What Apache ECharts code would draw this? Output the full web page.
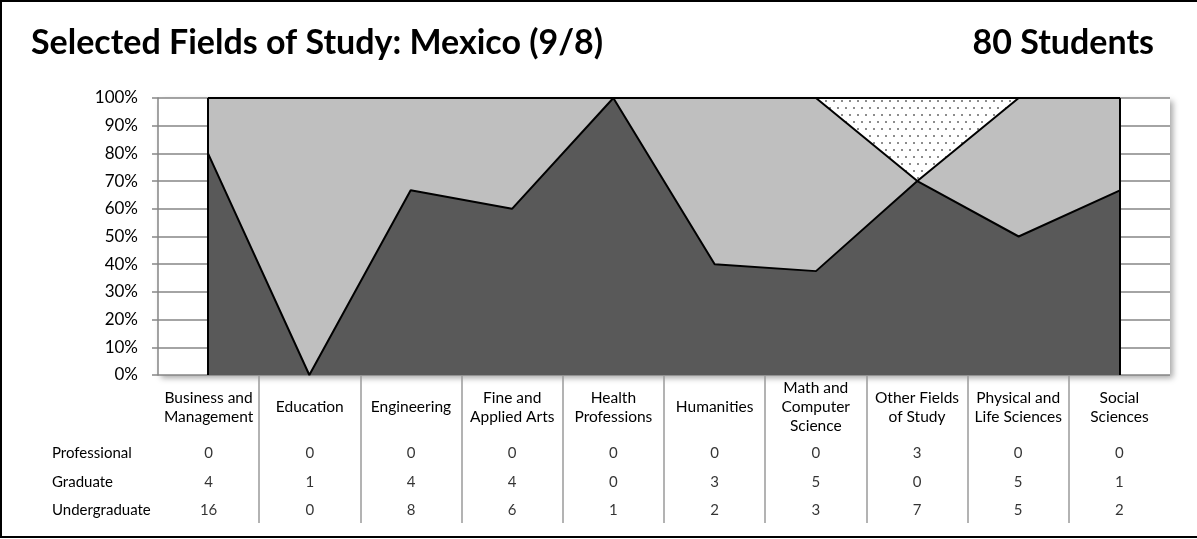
<!DOCTYPE html>
<html>
<head>
<meta charset="utf-8">
<script src="https://cdn.jsdelivr.net/npm/echarts@6/dist/echarts.min.js"></script>
<style>
  html, body { margin: 0; padding: 0; background: #fff; }
  #chart { width: 1197px; height: 539px; }
</style>
</head>
<body>
<div id="chart"></div>
<script>
const categories = [
  'Business and\nManagement', 'Education', 'Engineering', 'Fine and\nApplied Arts',
  'Health\nProfessions', 'Humanities', 'Math and\nComputer\nScience',
  'Other Fields\nof Study', 'Physical and\nLife Sciences', 'Social\nSciences'
];
const professional = [0, 0, 0, 0, 0, 0, 0, 3, 0, 0];
const graduate = [4, 1, 4, 4, 0, 3, 5, 0, 5, 1];
const undergraduate = [16, 0, 8, 6, 1, 2, 3, 7, 5, 2];
const rowNames = ['Undergraduate', 'Graduate', 'Professional'];
const rowCounts = [undergraduate, graduate, professional];

const FONT = 'Lato, "Open Sans", sans-serif';

// share of each category, 100% stacked
function pct(arr) {
  return arr.map((v, i) => {
    const total = undergraduate[i] + graduate[i] + professional[i];
    return total ? v / total * 100 : 0;
  });
}

// dotted fill for Professional
const dots = document.createElement('canvas');
dots.width = 8;
dots.height = 14;
const dctx = dots.getContext('2d');
dctx.fillStyle = '#fff';
dctx.fillRect(0, 0, 8, 14);
dctx.fillStyle = '#666';
dctx.beginPath(); dctx.arc(2, 3, 1, 0, Math.PI * 2); dctx.fill();
dctx.beginPath(); dctx.arc(6, 10, 1, 0, Math.PI * 2); dctx.fill();

// table cells
const cellData = [];
rowCounts.forEach((arr, r) => {
  arr.forEach((v, i) => cellData.push([i, r, v]));
});

const chart = echarts.init(document.getElementById('chart'));

const areaLine = { color: '#000', width: 2 };

const option = {
  backgroundColor: '#fff',
  animation: false,
  title: [
    {
      text: 'Selected Fields of Study: Mexico (9/8)',
      left: 31, top: 26, padding: 0,
      textStyle: { fontFamily: FONT, fontSize: 34, fontWeight: 'bold', color: '#000' }
    },
    {
      text: '80 Students',
      right: 43, top: 26, padding: 0,
      textStyle: { fontFamily: FONT, fontSize: 34, fontWeight: 'bold', color: '#000' }
    }
  ],
  graphic: [
    {
      type: 'rect',
      shape: { x: 1, y: 1, width: 1220, height: 536 },
      style: { fill: 'none', stroke: '#000', lineWidth: 2 },
      silent: true, z: 100
    }
  ],
  grid: [
    // background grid with gridlines and y labels
    { left: 158, width: 1012, top: 98, height: 277, show: true, backgroundColor: '#fff', borderWidth: 0,
      shadowColor: 'rgba(0,0,0,0.35)', shadowBlur: 6, shadowOffsetX: 3, shadowOffsetY: 3 },
    // table dividers
    { left: 158, width: 1012, top: 376, height: 147 },
    // table rows
    { left: 158, width: 1012, top: 439, height: 85.5 },
    // plot area
    { left: 208, width: 912, top: 98, height: 277 }
  ],
  xAxis: [
    {
      gridIndex: 0, type: 'category', data: categories, boundaryGap: true,
      axisLine: { show: false }, axisTick: { show: false },
      axisLabel: {
        interval: 0, margin: 32, verticalAlign: 'middle', lineHeight: 19,
        fontFamily: FONT, fontSize: 15.5, color: '#000'
      }
    },
    {
      gridIndex: 1, type: 'category', data: categories, boundaryGap: true,
      axisLine: { show: false }, axisTick: { show: false }, axisLabel: { show: false },
      splitLine: {
        show: true, interval: 0,
        lineStyle: {
          width: 1.5,
          color: ['rgba(0,0,0,0)', '#9a9a9a', '#9a9a9a', '#9a9a9a', '#9a9a9a', '#9a9a9a',
                  '#9a9a9a', '#9a9a9a', '#9a9a9a', '#9a9a9a', 'rgba(0,0,0,0)']
        }
      }
    },
    {
      gridIndex: 2, type: 'category', data: categories, boundaryGap: true, show: false
    },
    {
      gridIndex: 3, type: 'category', data: categories, boundaryGap: false, show: false
    }
  ],
  yAxis: [
    {
      gridIndex: 0, type: 'value', min: 0, max: 100, interval: 10,
      axisLine: { show: true, lineStyle: { color: '#868686', width: 1.5 } },
      axisTick: { show: true, length: 6, lineStyle: { color: '#868686', width: 1.5 } },
      splitLine: { show: true, lineStyle: { color: '#868686', width: 1.5 } },
      axisLabel: { formatter: '{value}%', margin: 20, fontFamily: FONT, fontSize: 17, color: '#000' }
    },
    {
      gridIndex: 1, type: 'value', min: 0, max: 1, show: false
    },
    {
      gridIndex: 2, type: 'category', data: rowNames,
      axisLine: { show: false }, axisTick: { show: false }, splitLine: { show: false },
      axisLabel: { align: 'left', margin: 106, fontFamily: FONT, fontSize: 15, color: '#000' }
    },
    {
      gridIndex: 3, type: 'value', min: 0, max: 100, show: false
    }
  ],
  series: [
    {
      name: 'Undergraduate', type: 'line', xAxisIndex: 3, yAxisIndex: 3, stack: 'total',
      data: pct(undergraduate), symbol: 'none', silent: true,
      lineStyle: areaLine, areaStyle: { color: '#595959', opacity: 1 }
    },
    {
      name: 'Graduate', type: 'line', xAxisIndex: 3, yAxisIndex: 3, stack: 'total',
      data: pct(graduate), symbol: 'none', silent: true,
      lineStyle: areaLine, areaStyle: { color: '#bfbfbf', opacity: 1 }
    },
    {
      name: 'Professional', type: 'line', xAxisIndex: 3, yAxisIndex: 3, stack: 'total',
      data: pct(professional), symbol: 'none', silent: true,
      lineStyle: areaLine, areaStyle: { color: { image: dots, repeat: 'repeat' }, opacity: 1 },
      markLine: {
        silent: true, symbol: ['none', 'none'], label: { show: false },
        lineStyle: { type: 'solid', color: '#000', width: 2 },
        data: [{ xAxis: categories[0] }, { xAxis: categories[categories.length - 1] }]
      }
    },
    {
      name: 'table', type: 'scatter', xAxisIndex: 2, yAxisIndex: 2,
      data: cellData, symbolSize: 0, silent: true,
      label: {
        show: true, position: 'inside', formatter: p => String(p.value[2]),
        fontFamily: FONT, fontSize: 15, color: '#000'
      }
    }
  ]
};

chart.setOption(option);
</script>
</body>
</html>
